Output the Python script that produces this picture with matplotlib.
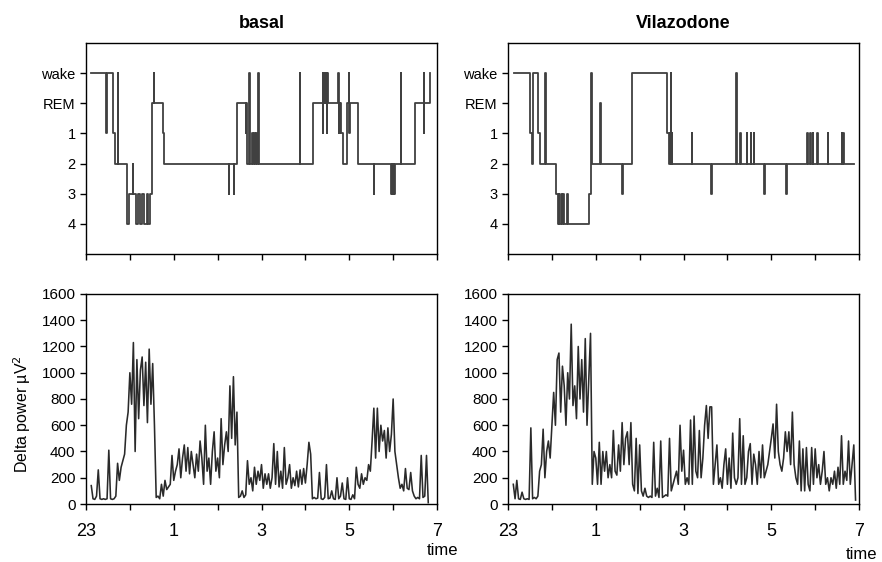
import matplotlib.pyplot as plt
import numpy as np

plt.rcParams['font.family'] = ['Liberation Sans', 'DejaVu Sans']

# hours after 23:00
hour_ticks = [0, 1, 2, 3, 4, 5, 6, 7, 8]
hour_labels = ['23', '', '1', '', '3', '', '5', '', '7']

stage_names = ['wake', 'REM', '1', '2', '3', '4']
stage_code = {'W': 0, 'R': 1, '1': 2, '2': 3, '3': 4, '4': 5}

# hypnogram: time of each stage change (h) and the stage entered
basal_hyp_t = [0.11, 0.46, 0.475, 0.61, 0.66, 0.72, 0.735, 0.94, 0.99, 1.07, 1.08,
               1.13, 1.18, 1.23, 1.28, 1.32, 1.40, 1.42, 1.46, 1.51, 1.55, 1.56,
               1.76, 1.77, 3.26, 3.27, 3.37, 3.38, 3.43, 3.64, 3.65, 3.68, 3.72,
               3.73, 3.79, 3.81, 3.83, 3.85, 3.87, 3.90, 3.93, 3.95, 4.87, 4.88,
               5.17, 5.39, 5.395, 5.40, 5.44, 5.45, 5.48, 5.49, 5.50, 5.51, 5.75,
               5.76, 5.77, 5.78, 5.80, 5.82, 5.86, 5.94, 5.99, 6.00, 6.01, 6.19,
               6.20, 6.56, 6.57, 6.94, 6.95, 6.96, 6.97, 6.98, 6.99, 7.00, 7.01,
               7.02, 7.04, 7.17, 7.18, 7.49, 7.70, 7.705, 7.71, 7.83]
basal_hyp_s = ['W', '1', 'W', '1', '2', 'W', '2', '4', '3', '2', '3',
               '4', '3', '4', '3', '4', '3', '4', '3', 'R', 'W', 'R',
               '1', '2', '3', '2', '3', '2', 'R', '1', 'R', '2', 'W',
               '2', '1', '2', '1', '2', '1', '2', 'W', '2', 'W', '2',
               'R', 'W', '1', 'R', 'W', 'R', 'W', '1', 'W', 'R', 'W',
               '1', 'R', '1', 'R', '1', '2', 'R', 'W', '1', 'R', '1',
               '2', '3', '2', '3', '2', '3', '2', '3', '2', '3', '2',
               '3', '2', 'W', '2', 'R', 'W', '1', 'R', 'W']

vila_hyp_t = [0.13, 0.50, 0.55, 0.56, 0.68, 0.73, 0.85, 0.86, 1.09, 1.13, 1.16,
              1.17, 1.20, 1.22, 1.26, 1.28, 1.35, 1.37, 1.84, 1.89, 1.905, 2.10,
              2.11, 2.60, 2.61, 2.82, 3.62, 3.67, 3.68, 3.69, 3.70, 3.71, 3.72,
              3.73, 3.74, 4.19, 4.20, 4.63, 4.64, 5.20, 5.21, 5.29, 5.30, 5.44,
              5.45, 5.53, 5.54, 5.60, 5.61, 5.84, 5.85, 6.34, 6.35, 6.82, 6.83,
              6.89, 6.90, 6.94, 6.95, 7.05, 7.06, 7.29, 7.30, 7.61, 7.62, 7.64,
              7.65, 7.68, 7.88]
vila_hyp_s = ['W', '1', '2', 'W', '1', '2', 'W', '2', '3', '4', '3',
              '4', '3', '4', '3', '4', '3', '4', '3', 'W', '2', 'R',
              '2', '3', '2', 'W', '1', '2', '1', '2', '1', 'W', '2',
              '1', '2', '1', '2', '3', '2', 'W', '2', '1', '2', '1',
              '2', '1', '2', '1', '2', '3', '2', '3', '2', '1', '2',
              '1', '2', '1', '2', '1', '2', '1', '2', '1', '2', '1',
              '2', '2', '2']

# delta power (uV^2), one value every 0.04 h
basal_start = 0.12
basal_delta = [
    140, 40, 35, 60, 260, 40, 35, 40, 35, 40,
    410, 40, 35, 40, 60, 310, 180, 280, 330, 380,
    600, 700, 1000, 760, 1230, 400, 1100, 650, 1020, 1120,
    750, 1080, 620, 1180, 760, 1070, 600, 50, 60, 40,
    150, 60, 180, 110, 130, 150, 370, 180, 250, 300,
    420, 200, 350, 450, 250, 430, 230, 400, 300, 200,
    380, 250, 480, 350, 150, 600, 250, 350, 150, 400,
    550, 250, 350, 200, 650, 300, 450, 550, 400, 900,
    500, 970, 450, 700, 50, 60, 100, 50, 70, 330,
    150, 200, 100, 280, 150, 250, 180, 300, 120, 230,
    150, 230, 120, 200, 460, 150, 400, 130, 250, 120,
    430, 150, 200, 300, 120, 200, 140, 250, 130, 260,
    150, 270, 160, 300, 470, 380, 40, 50, 40, 45,
    240, 40, 35, 50, 300, 40, 45, 100, 40, 35,
    200, 40, 60, 160, 40, 35, 200, 40, 35, 70,
    40, 280, 150, 120, 230, 150, 200, 180, 300, 250,
    480, 730, 350, 730, 400, 600, 480, 560, 350, 580,
    400, 530, 800, 400, 300, 200, 120, 150, 100, 270,
    120, 110, 240, 100, 60, 40, 50, 40, 370, 50,
    60, 370, 10]

vila_start = 0.12
vila_delta = [
    150, 40, 180, 40, 35, 90, 40, 35, 40, 35,
    580, 40, 50, 40, 60, 250, 300, 570, 200, 400,
    480, 350, 600, 850, 600, 1100, 1150, 700, 1050, 900,
    600, 1000, 800, 1370, 750, 900, 650, 1200, 800, 1100,
    700, 1260, 600, 950, 1300, 150, 400, 350, 150, 470,
    150, 400, 250, 400, 200, 300, 200, 560, 250, 220,
    450, 250, 620, 300, 500, 550, 300, 620, 150, 100,
    500, 80, 450, 100, 60, 120, 60, 50, 60, 50,
    470, 60, 120, 50, 480, 50, 60, 70, 60, 500,
    100, 150, 200, 250, 150, 600, 250, 410, 150, 200,
    150, 640, 150, 670, 250, 200, 560, 200, 350, 600,
    750, 500, 740, 740, 150, 300, 450, 150, 200, 120,
    300, 420, 150, 350, 120, 540, 200, 150, 200, 650,
    150, 520, 150, 200, 400, 460, 150, 380, 300, 150,
    400, 200, 450, 200, 250, 300, 400, 500, 610, 350,
    760, 400, 300, 250, 350, 550, 400, 550, 300, 700,
    300, 200, 150, 480, 100, 420, 100, 430, 150, 100,
    430, 150, 420, 200, 300, 150, 250, 400, 150, 200,
    100, 200, 150, 250, 120, 280, 150, 520, 150, 250,
    180, 480, 150, 300, 450, 30]

fig = plt.figure(figsize=(8.82, 5.62), dpi=100)

lefts = [0.0975, 0.576]
w = 0.398
top_axes = [fig.add_axes([l, 0.548, w, 0.3754]) for l in lefts]
bot_axes = [fig.add_axes([l, 0.1032, w, 0.3737]) for l in lefts]

hyps = [(basal_hyp_t, basal_hyp_s), (vila_hyp_t, vila_hyp_s)]
deltas = [(basal_start, basal_delta), (vila_start, vila_delta)]
titles = ['basal', 'Vilazodone']

for ax, (t, s), title in zip(top_axes, hyps, titles):
    ax.step(t, [stage_code[x] for x in s], where='post', color='#404040', lw=1.3)
    ax.set_xlim(0, 8)
    ax.set_ylim(6, -1)
    ax.set_yticks(range(6))
    ax.set_yticklabels(stage_names, fontsize=10.5)
    ax.set_xticks(hour_ticks)
    ax.set_xticklabels([])
    ax.set_title(title, fontsize=13, fontweight='bold', pad=11)

for ax, (t0, d) in zip(bot_axes, deltas):
    t = t0 + 0.04 * np.arange(len(d))
    ax.plot(t, d, color='#2a2a2a', lw=1.15)
    ax.set_xlim(0, 8)
    ax.set_ylim(0, 1600)
    ax.set_yticks(range(0, 1601, 200))
    ax.set_xticks(hour_ticks)
    ax.set_xticklabels(hour_labels, fontsize=13)
    ax.tick_params(axis='y', labelsize=11)

bot_axes[0].set_ylabel('Delta power µV$^2$', fontsize=11.5)
bot_axes[0].yaxis.set_label_coords(-0.15, 0.43)

for ax in top_axes + bot_axes:
    ax.tick_params(direction='out', length=4.5, width=1)
    ax.tick_params(axis='y', pad=3)
    ax.tick_params(axis='x', pad=9)
    for sp in ax.spines.values():
        sp.set_linewidth(1)

fig.text(0.502, 0.021, 'time', fontsize=12, ha='center', va='center')
fig.text(0.977, 0.013, 'time', fontsize=12, ha='center', va='center')

plt.savefig('out.png')
